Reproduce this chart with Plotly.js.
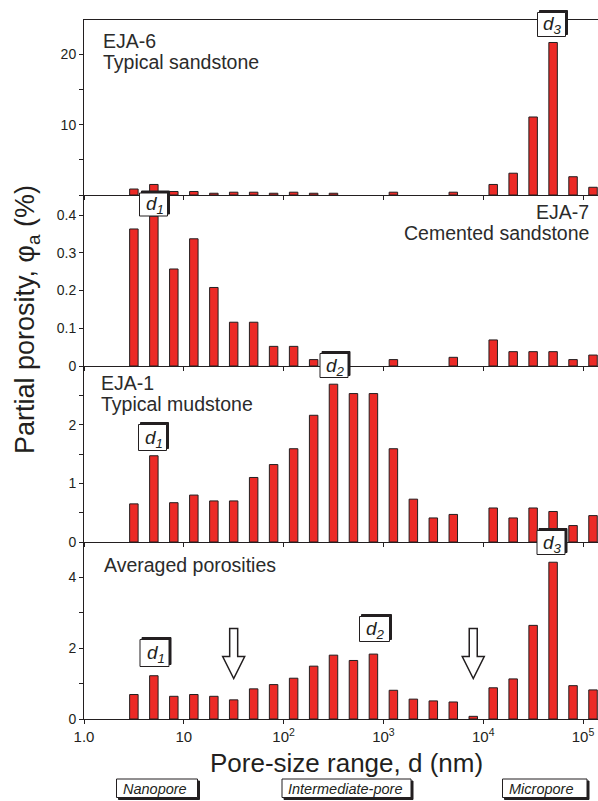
<!DOCTYPE html>
<html>
<head>
<meta charset="utf-8">
<script src="https://cdn.plot.ly/plotly-3.0.1.min.js"></script>
<style>html,body{margin:0;padding:0;background:#fff;}</style>
</head>
<body>
<div id="chart" style="width:598px;height:801px;"></div>
<script>
// Pore-size bin centres (nm), 0.2-decade bins
const poreSizeNm = [3.16, 5.01, 7.94, 12.6, 20.0, 31.6, 50.1, 79.4, 126, 200, 316, 501, 794,
  1259, 1995, 3162, 5012, 7943, 12589, 19953, 31623, 50119, 79433, 125893];
// Partial porosity (%) per sample (0 = no bar drawn)
const eja6 = [0.85, 1.5, 0.5, 0.5, 0.25, 0.4, 0.4, 0.25, 0.4, 0.25, 0.25, 0, 0, 0.4, 0, 0, 0.4, 0, 1.5, 3.1, 11.1, 21.7, 2.6, 1.1];
const eja7 = [0.363, 0.397, 0.257, 0.337, 0.208, 0.116, 0.116, 0.052, 0.052, 0.017, 0, 0, 0, 0.017, 0, 0, 0.023, 0, 0.069, 0.038, 0.038, 0.038, 0.017, 0.029];
const eja1 = [0.65, 1.47, 0.67, 0.80, 0.70, 0.70, 1.10, 1.32, 1.59, 2.16, 2.69, 2.53, 2.53, 1.59, 0.73, 0.41, 0.47, 0, 0.58, 0.41, 0.58, 0.52, 0.28, 0.45];
const averaged = [0.69, 1.22, 0.64, 0.69, 0.64, 0.54, 0.85, 0.97, 1.15, 1.49, 1.80, 1.65, 1.83, 0.81, 0.56, 0.51, 0.48, 0.075, 0.88, 1.13, 2.64, 4.42, 0.94, 0.82];
// Pore-size boundaries marked by arrows (nm)
const boundaryNm = [31.6, 7943];
// X tick labels
const xTickVals = [0, 1, 2, 3, 4, 5];
const xTickText = ['1.0', '10', '10<sup>2</sup>', '10<sup>3</sup>', '10<sup>4</sup>', '10<sup>5</sup>'];

const INK = '#231f20';
const RED = '#ec2a26';
const FONT = 'Liberation Sans, Arial, Helvetica, sans-serif';

const logX = poreSizeNm.map(v => Math.log10(v));

function barTrace(vals, xa, ya) {
  return {
    type: 'bar', x: logX, y: vals.map(v => (v > 0 ? v : null)), xaxis: xa, yaxis: ya, width: 0.085,
    marker: {color: RED, line: {color: INK, width: 1}},
    hoverinfo: 'skip', showlegend: false
  };
}
const data = [
  barTrace(eja6, 'x', 'y'),
  barTrace(eja7, 'x2', 'y2'),
  barTrace(eja1, 'x3', 'y3'),
  barTrace(averaged, 'x4', 'y4')
];

// pixel helpers (plot area: x 84..598, y 20..719)
const L = 84, R = 598, T = 20, B = 719;
const px = v => (v - L) / (R - L);
const py = v => (B - v) / (B - T);

function xAxis(anchor, showLabels, mirror) {
  return {
    anchor: anchor, domain: [0, 1], range: [0, 5.15], type: 'linear',
    showline: true, linecolor: INK, linewidth: 1, mirror: mirror,
    ticks: 'outside', ticklen: 4, tickcolor: INK, tickwidth: 1,
    tickmode: 'array', tickvals: xTickVals, ticktext: xTickText, showticklabels: showLabels,
    tickfont: {family: FONT, size: 15, color: INK},
    showgrid: false, zeroline: false, fixedrange: true
  };
}
function yAxis(anchor, domain, range, tv, minorStep) {
  const ax = {
    anchor: anchor, domain: domain, range: range,
    showline: true, linecolor: INK, linewidth: 1,
    ticks: 'outside', ticklen: 4, tickcolor: INK, tickwidth: 1,
    tickmode: 'array', tickvals: tv,
    tickfont: {family: FONT, size: 14, color: INK},
    showgrid: false, zeroline: false, fixedrange: true
  };
  if (minorStep) {
    ax.minor = {dtick: minorStep, tick0: 0, ticks: 'outside', ticklen: 4, tickcolor: INK, tickwidth: 1, showgrid: false};
  }
  return ax;
}

const annotations = [];
const shapes = [];
function label(text, x, y, anchor, size, italic) {
  annotations.push({xref: 'paper', yref: 'paper', x: px(x), y: py(y), xanchor: anchor, yanchor: 'middle',
    text: text, showarrow: false, font: {family: FONT, size: size, color: '#2b2b2b', style: italic ? 'italic' : 'normal'}});
}
label('EJA-6', 101, 41, 'left', 19.5);
label('Typical sandstone', 101, 62, 'left', 19.5);
label('EJA-7', 591, 212, 'right', 19.5);
label('Cemented sandstone', 591, 233, 'right', 19.5);
label('EJA-1', 99, 383, 'left', 19.5);
label('Typical mudstone', 99, 404, 'left', 19.5);
label('Averaged porosities', 102, 565, 'left', 19.5);

// boxes with drop shadow (shapes) + text (annotation)
function box(x0, y0, x1, y1, sx, sy) {
  shapes.push({type: 'rect', xref: 'paper', yref: 'paper', layer: 'above',
    x0: px(x0 + sx), x1: px(x1 + sx), y0: py(y0 + sy), y1: py(y1 + sy),
    fillcolor: INK, line: {color: INK, width: 1}});
  shapes.push({type: 'rect', xref: 'paper', yref: 'paper', layer: 'above',
    x0: px(x0), x1: px(x1), y0: py(y0), y1: py(y1),
    fillcolor: '#ffffff', line: {color: INK, width: 1}});
}
function dBox(n, cx, cy, w, h) {
  box(cx - w / 2, cy - h / 2, cx + w / 2, cy + h / 2, 2, -2);
  annotations.push({xref: 'paper', yref: 'paper', x: px(cx + 1), y: py(cy + 1), xanchor: 'center', yanchor: 'middle',
    text: '<i>d<sub>' + n + '</sub></i>', showarrow: false, font: {family: FONT, size: 19, color: INK}});
}
dBox(3, 551.5, 24.5, 28, 24);
dBox(1, 153.5, 204.5, 28, 23);
dBox(2, 334, 365.5, 28, 24);
dBox(1, 152.5, 437.5, 28, 26);
dBox(3, 551, 542.5, 28, 24);
dBox(1, 154.5, 653, 29, 27);
dBox(2, 374.5, 629, 30, 25);

function catBox(text, x0, x1) {
  box(x0, 779, x1, 797.5, 2, 2);
  annotations.push({xref: 'paper', yref: 'paper', x: px(x0 + 4), y: py(788.5), xanchor: 'left', yanchor: 'middle',
    text: '<i>' + text + '</i>', showarrow: false, font: {family: FONT, size: 14.5, color: INK}});
}
catBox('Nanopore', 116.5, 197.5);
catBox('Intermediate-pore', 282, 411);
catBox('Micropore', 502.5, 587);

// axis titles
annotations.push({xref: 'paper', yref: 'paper', x: px(346.5), y: py(763), xanchor: 'center', yanchor: 'middle',
  text: 'Pore-size range, d (nm)', showarrow: false, font: {family: FONT, size: 26, color: INK}});
annotations.push({xref: 'paper', yref: 'paper', x: px(27), y: py(320), xanchor: 'center', yanchor: 'middle',
  textangle: -90, text: 'Partial porosity, \u03c6<sub>a</sub> (%)', showarrow: false,
  font: {family: FONT, size: 27, color: INK}});

// hollow down arrows at pore-size boundaries
boundaryNm.forEach(v => shapes.push({
  type: 'path', xref: 'x4', yref: 'paper', xsizemode: 'pixel', ysizemode: 'pixel',
  xanchor: Math.log10(v), yanchor: py(678.5),
  path: 'M0,0 L-11,22 L-4,22 L-4,50 L4,50 L4,22 L11,22 Z',
  fillcolor: '#ffffff', line: {color: INK, width: 1.5}, layer: 'above'
}));

const layout = {
  width: 598, height: 801,
  margin: {l: L, r: 598 - R, t: T, b: 801 - B, pad: 0},
  paper_bgcolor: '#ffffff', plot_bgcolor: '#ffffff',
  bargap: 0, showlegend: false,
  font: {family: FONT, color: INK},
  xaxis: xAxis('y', false, true),
  xaxis2: xAxis('y2', false, false),
  xaxis3: xAxis('y3', false, false),
  xaxis4: xAxis('y4', true, false),
  yaxis: yAxis('x', [py(195), 1], [0, 24.9], [10, 20], 5),
  yaxis2: yAxis('x2', [py(366), py(195)], [0, 0.453], [0, 0.1, 0.2, 0.3, 0.4], null),
  yaxis3: yAxis('x3', [py(542), py(366)], [0, 3.0], [0, 1, 2], 0.5),
  yaxis4: yAxis('x4', [0, py(542)], [0, 4.99], [0, 2, 4], 1),
  annotations: annotations,
  shapes: shapes
};

Plotly.newPlot('chart', data, layout, {displayModeBar: false, staticPlot: true});
</script>
</body>
</html>
